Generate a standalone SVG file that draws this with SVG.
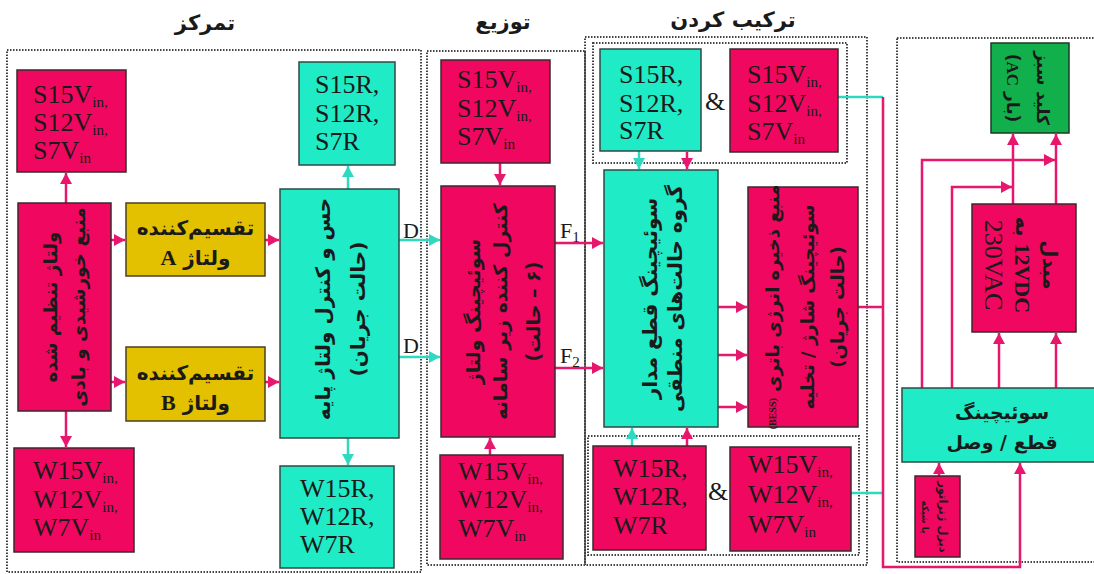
<svg xmlns="http://www.w3.org/2000/svg" width="1094" height="574" viewBox="0 0 1094 574">
<style>
.pk{fill:#F0075F;stroke:#3a2a2a;stroke-width:1.5}
.tl{fill:#1FEBC6;stroke:#2f4a44;stroke-width:1.5}
.yl{fill:#E3C000;stroke:#4a4020;stroke-width:1.5}
.gr{fill:#12B04C;stroke:#1f3a25;stroke-width:1.5}
.dot{fill:none;stroke:#444;stroke-width:2;stroke-dasharray:1.5 1.5}
.en{font-family:"Liberation Serif",serif;font-size:26px;fill:#1a1a1a}
.sub{font-size:15px}
.fa{font-family:"DejaVu Sans",sans-serif;font-weight:bold;fill:#1a1a1a;direction:rtl;text-anchor:middle}
.hd{font-family:"DejaVu Sans",sans-serif;font-weight:bold;font-size:21px;fill:#1a1a1a;direction:rtl;text-anchor:middle}
.lp{fill:none;stroke:#E8176E;stroke-width:2.5}
.lt{fill:none;stroke:#2FD9C0;stroke-width:2.5}
.lb{font-family:"Liberation Serif",serif;font-size:22px;fill:#1a1a1a}
</style>
<defs>
<marker id="ap" markerWidth="12" markerHeight="12" refX="11" refY="6" orient="auto" markerUnits="userSpaceOnUse"><path d="M0,0 L11,6 L0,12 z" fill="#E8176E"/></marker>
<marker id="at" markerWidth="12" markerHeight="12" refX="11" refY="6" orient="auto" markerUnits="userSpaceOnUse"><path d="M0,0 L11,6 L0,12 z" fill="#2FD9C0"/></marker>
</defs>

<g id="headers">
<text class="hd" x="205" y="30">تمرکز</text>
<text class="hd" x="503" y="29">توزیع</text>
<text class="hd" x="733" y="27">ترکیب کردن</text>
</g>

<g id="frames">
<rect class="dot" x="7" y="50" width="414" height="522"/>
<rect class="dot" x="427" y="51" width="158" height="514"/>
<rect class="dot" x="585" y="37" width="282" height="528"/>
<rect class="dot" x="593" y="43" width="254" height="120"/>
<rect class="dot" x="588" y="436" width="271" height="119"/>
<rect class="dot" x="897" y="38" width="200" height="524"/>
</g>

<g id="connectors">
<path class="lp" d="M66,203 V173" marker-end="url(#ap)"/>
<path class="lp" d="M66,411 V447" marker-end="url(#ap)"/>
<path class="lp" d="M111,240 H125" marker-end="url(#ap)"/>
<path class="lp" d="M265,240 H279" marker-end="url(#ap)"/>
<path class="lp" d="M111,382 H125" marker-end="url(#ap)"/>
<path class="lp" d="M265,382 H279" marker-end="url(#ap)"/>
<path class="lt" d="M348,189 V166" marker-end="url(#at)"/>
<path class="lt" d="M348,438 V465" marker-end="url(#at)"/>
<path class="lt" d="M399,240 H440" marker-end="url(#at)"/>
<path class="lt" d="M399,357 H440" marker-end="url(#at)"/>
<path class="lp" d="M500,163 V185" marker-end="url(#ap)"/>
<path class="lp" d="M490,455 V438" marker-end="url(#ap)"/>
<path class="lp" d="M555,243 H603" marker-end="url(#ap)"/>
<path class="lp" d="M555,368 H603" marker-end="url(#ap)"/>
<path class="lt" d="M639,151 V169" marker-end="url(#at)"/>
<path class="lp" d="M687,152 V169" marker-end="url(#ap)"/>
<path class="lt" d="M632,446 V428" marker-end="url(#at)"/>
<path class="lp" d="M687,446 V428" marker-end="url(#ap)"/>
<path class="lp" d="M718,307 H747" marker-end="url(#ap)"/>
<path class="lp" d="M718,355 H747" marker-end="url(#ap)"/>
<path class="lp" d="M718,407 H747" marker-end="url(#ap)"/>
<path class="lp" d="M858,307 H883"/>
<path class="lt" d="M838,97 H883"/>
<path class="lt" d="M851,493 H883"/>
<path class="lp" d="M883,97 V567 H1020 V463" marker-end="url(#ap)"/>
<path class="lp" d="M939,476 V463" marker-end="url(#ap)"/>
<path class="lp" d="M999,388 V333" marker-end="url(#ap)"/>
<path class="lp" d="M1056,388 V333" marker-end="url(#ap)"/>
<path class="lp" d="M1013,204 V134" marker-end="url(#ap)"/>
<path class="lp" d="M1056,204 V134" marker-end="url(#ap)"/>
<path class="lp" d="M922,388 V160 H1055" marker-end="url(#ap)"/>
<path class="lp" d="M952,388 V187 H1012" marker-end="url(#ap)"/>
<text class="lb" x="403" y="238">D</text>
<text class="lb" x="403" y="353">D</text>
<text class="lb" x="560" y="238">F<tspan class="sub" dy="4">1</tspan></text>
<text class="lb" x="560" y="363">F<tspan class="sub" dy="4">2</tspan></text>
</g>

<g id="s1-svin">
<rect class="pk" x="17" y="70" width="109" height="102"/>
<text class="en" x="33" y="103">S15V<tspan class="sub" dy="4">in,</tspan></text>
<text class="en" x="33" y="131">S12V<tspan class="sub" dy="4">in,</tspan></text>
<text class="en" x="33" y="159">S7V<tspan class="sub" dy="4">in</tspan></text>
</g>
<g id="s1-sr">
<rect class="tl" x="299" y="62" width="96" height="103"/>
<text class="en" x="315" y="93">S15R,</text>
<text class="en" x="315" y="122">S12R,</text>
<text class="en" x="315" y="150">S7R</text>
</g>
<g id="s1-source">
<rect class="pk" x="18" y="203" width="93" height="208"/>
<g transform="translate(64.5,307) rotate(-90)">
<text class="fa" font-size="18.5" x="0" y="-14.5" dominant-baseline="central">ولتاژ تنظیم شده</text>
<text class="fa" font-size="18.5" x="0" y="13.5" dominant-baseline="central">منبع خورشیدی و بادی</text>
</g>
</g>
<g id="s1-divA">
<rect class="yl" x="126" y="203" width="139" height="73"/>
<text class="fa" font-size="20" x="195.5" y="235">تقسیم‌کننده</text>
<text class="fa" font-size="20" x="195.5" y="265">ولتاژ <tspan font-family="Liberation Serif" font-size="22">A</tspan></text>
</g>
<g id="s1-divB">
<rect class="yl" x="126" y="347" width="139" height="74"/>
<text class="fa" font-size="20" x="195.5" y="380">تقسیم‌کننده</text>
<text class="fa" font-size="20" x="195.5" y="410">ولتاژ <tspan font-family="Liberation Serif" font-size="22">B</tspan></text>
</g>
<g id="s1-control">
<rect class="tl" x="280" y="189" width="119" height="249"/>
<g transform="translate(339.5,309) rotate(-90)">
<text class="fa" font-size="20" x="0" y="-16.5" dominant-baseline="central">حس و کنترل ولتاژ پایه</text>
<text class="fa" font-size="20" x="0" y="18.5" dominant-baseline="central">(حالت جریان)</text>
</g>
</g>
<g id="s1-wvin">
<rect class="pk" x="14" y="448" width="120" height="104"/>
<text class="en" x="33" y="479">W15V<tspan class="sub" dy="4">in,</tspan></text>
<text class="en" x="33" y="508">W12V<tspan class="sub" dy="4">in,</tspan></text>
<text class="en" x="33" y="536">W7V<tspan class="sub" dy="4">in</tspan></text>
</g>
<g id="s1-wr">
<rect class="tl" x="280" y="466" width="114" height="102"/>
<text class="en" x="300" y="497">W15R,</text>
<text class="en" x="300" y="525">W12R,</text>
<text class="en" x="300" y="553">W7R</text>
</g>

<g id="s2-svin">
<rect class="pk" x="441" y="60" width="109" height="103"/>
<text class="en" x="457" y="88">S15V<tspan class="sub" dy="4">in,</tspan></text>
<text class="en" x="457" y="117">S12V<tspan class="sub" dy="4">in,</tspan></text>
<text class="en" x="457" y="145">S7V<tspan class="sub" dy="4">in</tspan></text>
</g>
<g id="s2-switch">
<rect class="pk" x="441" y="186" width="114" height="251"/>
<g transform="translate(498,311.5) rotate(-90)">
<text class="fa" font-size="19" x="0" y="-25" dominant-baseline="central">سوئیچینگ ولتاژ</text>
<text class="fa" font-size="19" x="0" y="2" dominant-baseline="central">کنترل کننده زیر سامانه</text>
<text class="fa" font-size="19" x="0" y="35" dominant-baseline="central">(۶ – حالت)</text>
</g>
</g>
<g id="s2-wvin">
<rect class="pk" x="440" y="455" width="123" height="104"/>
<text class="en" x="458" y="480">W15V<tspan class="sub" dy="4">in,</tspan></text>
<text class="en" x="458" y="508">W12V<tspan class="sub" dy="4">in,</tspan></text>
<text class="en" x="458" y="537">W7V<tspan class="sub" dy="4">in</tspan></text>
</g>

<g id="s3-sr">
<rect class="tl" x="600" y="49" width="101" height="102"/>
<text class="en" x="619" y="83">S15R,</text>
<text class="en" x="619" y="112">S12R,</text>
<text class="en" x="619" y="139">S7R</text>
</g>
<text class="en" x="705" y="110" font-size="28">&amp;</text>
<g id="s3-svin">
<rect class="pk" x="730" y="49" width="108" height="103"/>
<text class="en" x="747" y="83">S15V<tspan class="sub" dy="4">in,</tspan></text>
<text class="en" x="747" y="112">S12V<tspan class="sub" dy="4">in,</tspan></text>
<text class="en" x="747" y="140">S7V<tspan class="sub" dy="4">in</tspan></text>
</g>
<g id="s3-breaker">
<rect class="tl" x="604" y="170" width="114" height="257"/>
<g transform="translate(661,298.5) rotate(-90)">
<text class="fa" font-size="20" x="0" y="-11" dominant-baseline="central">سوئیچینگ قطع مدار</text>
<text class="fa" font-size="20" x="0" y="14" dominant-baseline="central">گروه حالت‌های منطقی</text>
</g>
</g>
<g id="s3-bess">
<rect class="pk" x="748" y="187" width="110" height="240"/>
<g transform="translate(803,307) rotate(-90)">
<text class="fa" font-size="18" x="0" y="-31" dominant-baseline="central">منبع ذخیره انرژی باتری <tspan font-family="Liberation Serif" font-size="10">(BESS)</tspan></text>
<text class="fa" font-size="18" x="0" y="4" dominant-baseline="central">سوئیچینگ شارژ / تخلیه</text>
<text class="fa" font-size="18" x="0" y="34" dominant-baseline="central">(حالت جریان)</text>
</g>
</g>
<g id="s3-wr">
<rect class="pk" x="593" y="446" width="113" height="104"/>
<text class="en" x="613" y="477">W15R,</text>
<text class="en" x="613" y="505">W12R,</text>
<text class="en" x="613" y="534">W7R</text>
</g>
<text class="en" x="708" y="500" font-size="28">&amp;</text>
<g id="s3-wvin">
<rect class="pk" x="730" y="447" width="121" height="104"/>
<text class="en" x="748" y="473">W15V<tspan class="sub" dy="4">in,</tspan></text>
<text class="en" x="748" y="503">W12V<tspan class="sub" dy="4">in,</tspan></text>
<text class="en" x="748" y="533">W7V<tspan class="sub" dy="4">in</tspan></text>
</g>

<g id="s4-green">
<rect class="gr" x="991" y="43" width="78" height="90"/>
<g transform="translate(1030,88) rotate(90)">
<text class="fa" font-size="17" x="0" y="-13" dominant-baseline="central">کلید سبز</text>
<text class="fa" font-size="17" x="0" y="17" dominant-baseline="central">(بار <tspan font-family="Liberation Serif">AC</tspan>)</text>
</g>
</g>
<g id="s4-converter">
<rect class="pk" x="972" y="204" width="104" height="128"/>
<g transform="translate(1024,265) rotate(90)">
<text class="fa" font-size="20" x="0" y="-26" dominant-baseline="central">مبدل</text>
<text class="fa" font-size="20" x="0" y="1" dominant-baseline="central"><tspan font-family="Liberation Serif" font-size="22">12VDC</tspan> به</text>
<text class="en" font-size="22" x="0" y="31" text-anchor="middle" dominant-baseline="central">230VAC</text>
</g>
</g>
<g id="s4-switch">
<rect class="tl" x="902" y="388" width="197" height="74"/>
<text class="fa" font-size="19" x="1002" y="419">سوئیچینگ</text>
<text class="fa" font-size="19" x="1002" y="449">قطع / وصل</text>
</g>
<g id="s4-diesel">
<rect class="pk" x="915" y="476" width="45" height="81"/>
<g transform="translate(937.5,517) rotate(90)">
<text class="fa" font-size="11.5" x="0" y="-5" dominant-baseline="central">دیزل ژنراتور</text>
<text class="fa" font-size="9" x="0" y="13" dominant-baseline="central">یا شبکه</text>
</g>
</g>
</svg>
